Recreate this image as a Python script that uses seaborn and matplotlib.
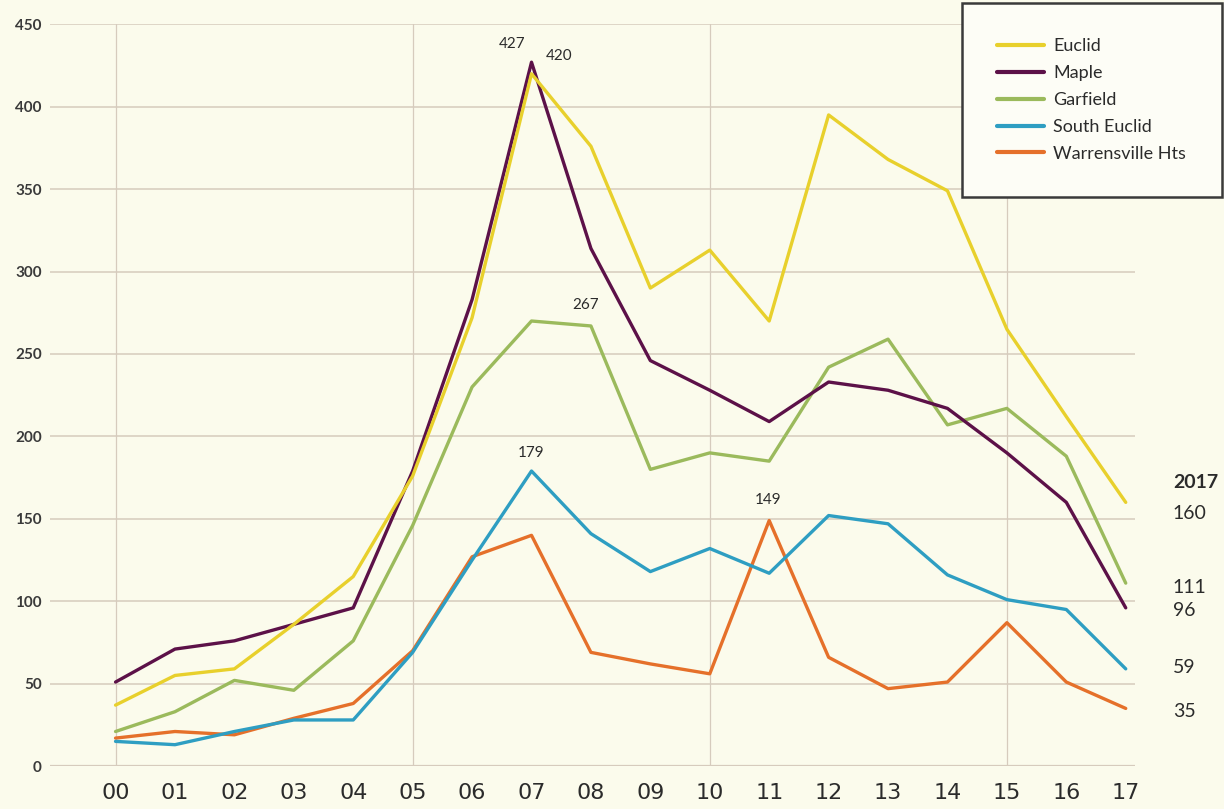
import matplotlib
matplotlib.use("Agg")
import matplotlib.pyplot as plt
import pandas as pd
import seaborn as sns

YEARS = ["00", "01", "02", "03", "04", "05", "06", "07", "08",
         "09", "10", "11", "12", "13", "14", "15", "16", "17"]
CITIES = ["Euclid", "Maple", "Garfield", "South Euclid", "Warrensville Hts"]

EUCLID = [37, 55, 59, 86, 115, 176, 272, 420, 376, 290, 313, 270, 395, 368, 349, 265, 212, 160]
MAPLE = [51, 71, 76, 86, 96, 179, 283, 427, 314, 246, 228, 209, 233, 228, 217, 190, 160, 96]
GARFIELD = [21, 33, 52, 46, 76, 146, 230, 270, 267, 180, 190, 185, 242, 259, 207, 217, 188, 111]
SOUTH_EUCLID = [15, 13, 21, 28, 28, 69, 125, 179, 141, 118, 132, 117, 152, 147, 116, 101, 95, 59]
WARRENSVILLE = [17, 21, 19, 29, 38, 70, 127, 140, 69, 62, 56, 149, 66, 47, 51, 87, 51, 35]

COLORS = ["#E8D02C", "#5C1148", "#9BBA5C", "#2E9EC2", "#E5702A"]
Y_TICKS = [0, 50, 100, 150, 200, 250, 300, 350, 400, 450]

# value labels: (city, year index, offset in points)
PEAK_LABELS = [
    ("Maple", 7, (-14, 8)),
    ("Euclid", 7, (20, 8)),
    ("Garfield", 8, (-4, 10)),
    ("South Euclid", 7, (0, 8)),
    ("Warrensville Hts", 11, (-1, 10)),
]

BG = "#FBFBEC"
GRID = "#D6CBBD"
TEXT = "#2B2B2B"


def build_frame() -> pd.DataFrame:
    series = [EUCLID, MAPLE, GARFIELD, SOUTH_EUCLID, WARRENSVILLE]
    rows = []
    for city, values in zip(CITIES, series):
        for i, v in enumerate(values):
            rows.append({"year": i, "city": city, "count": v})
    return pd.DataFrame(rows)


def main() -> None:
    df = build_frame()
    sns.set_theme(style="white")
    plt.rcParams["font.family"] = ["Lato", "DejaVu Sans"]

    fig = plt.figure(figsize=(12.24, 8.09), dpi=100, facecolor=BG)
    ax = fig.add_axes([0.041, 0.053, 0.886, 0.917])
    ax.set_facecolor(BG)

    sns.lineplot(data=df, x="year", y="count", hue="city", hue_order=CITIES,
                 palette=COLORS, linewidth=2.4, ax=ax, legend=True)
    # first series on top
    for i, line in enumerate(ax.lines[:len(CITIES)]):
        line.set_zorder(10 - i)

    ax.set_xlim(-1.1, 17.15)
    ax.set_ylim(0, 450)
    ax.set_yticks(Y_TICKS)
    ax.set_yticklabels([str(t) for t in Y_TICKS], fontsize=11, fontweight="bold",
                       color="#3A3A3A")
    ax.set_xticks(range(len(YEARS)))
    ax.set_xticklabels(YEARS, fontsize=16, color=TEXT,
                       family=["Liberation Sans Narrow", "DejaVu Sans"])
    ax.tick_params(axis="both", length=0)
    ax.tick_params(axis="x", pad=12)
    ax.tick_params(axis="y", pad=6)
    ax.set_xlabel("")
    ax.set_ylabel("")

    for t in Y_TICKS:
        ax.axhline(t, color=GRID, linewidth=1.1 if t else 1.6, zorder=1)
    for x in [0, 5, 10, 15]:
        ax.axvline(x, color=GRID, linewidth=0.9, zorder=1)
    for side in ax.spines.values():
        side.set_visible(False)

    # peak value labels
    lookup = df.set_index(["city", "year"])["count"]
    for city, idx, off in PEAK_LABELS:
        ax.annotate(str(lookup[(city, idx)]), xy=(idx, lookup[(city, idx)]),
                    xytext=off, textcoords="offset points", ha="center",
                    va="bottom", fontsize=11, color=TEXT, zorder=12)

    # 2017 end labels
    last = len(YEARS) - 1
    ends = {c: lookup[(c, last)] for c in CITIES}
    offsets = {"Euclid": -8, "Maple": -2, "Garfield": -3,
               "South Euclid": 1, "Warrensville Hts": -2}
    for c in CITIES:
        ax.annotate(str(ends[c]), xy=(last, ends[c]), xytext=(34, offsets[c]),
                    textcoords="offset points", ha="left", va="center",
                    fontsize=14, color=TEXT, annotation_clip=False)
    ax.annotate("2017", xy=(last, ends["Euclid"]), xytext=(34, 14),
                textcoords="offset points", ha="left", va="center",
                fontsize=14, fontweight="bold", color=TEXT, annotation_clip=False)

    handles, labels = ax.get_legend_handles_labels()
    leg = ax.legend(handles, labels, loc="upper right",
                    bbox_to_anchor=(0.998, 0.996), bbox_transform=fig.transFigure,
                    frameon=True, fancybox=False, fontsize=13, handlelength=2.6,
                    handletextpad=0.5, labelspacing=0.6, borderpad=1.95,
                    borderaxespad=0)
    leg.set_zorder(20)
    frame = leg.get_frame()
    frame.set_edgecolor("#3A3A3A")
    frame.set_linewidth(1.8)
    frame.set_facecolor("#FDFDF6")
    frame.set_alpha(1)
    for line in leg.get_lines():
        line.set_linewidth(3)
    for txt in leg.get_texts():
        txt.set_color(TEXT)

    fig.savefig("out.png", dpi=100, facecolor=BG)
    plt.close(fig)


if __name__ == "__main__":
    main()
